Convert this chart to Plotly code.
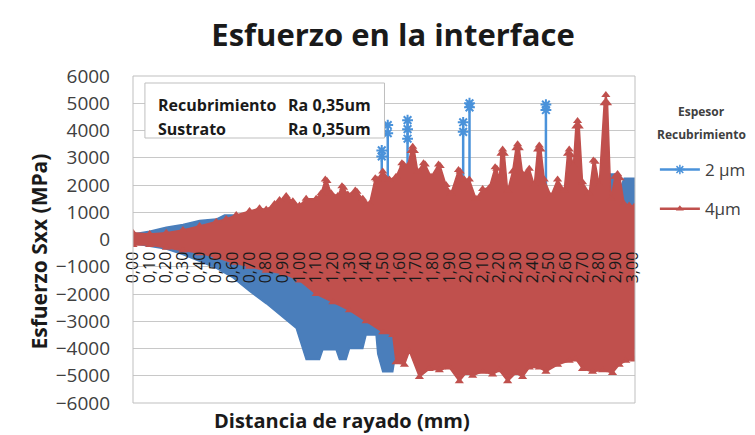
import plotly.graph_objects as go

# ---------------- data ----------------
tick_vals = [0.0, 0.1, 0.2, 0.3, 0.4, 0.5, 0.6, 0.7, 0.8, 0.9, 1.0, 1.1, 1.2, 1.3, 1.4, 1.5,
             1.6, 1.7, 1.8, 1.9, 2.0, 2.1, 2.2, 2.3, 2.4, 2.5, 2.6, 2.7, 2.8, 2.9, 3.0]
tick_text = ["0,00", "0,10", "0,20", "0,30", "0,40", "0,50", "0,60", "0,70", "0,80", "0,90",
             "1,00", "1,10", "1,20", "1,30", "1,40", "1,50", "1,60", "1,70", "1,80", "1,90",
             "2,00", "2,10", "2,20", "2,30", "2,40", "2,50", "2,60", "2,70", "2,80", "2,90", "3,00"]

# 2 um series: envelope of the oscillating signal (upper / lower), MPa
blue_up_x = [0.00, 0.10, 0.20, 0.30, 0.40, 0.50, 0.55, 0.62, 0.66, 0.70, 0.80, 1.00, 1.50, 2.00,
             2.50, 2.80, 2.85, 2.90, 2.92, 2.95, 3.01]
blue_up_y = [200, 300, 450, 550, 700, 750, 900, 900, 700, 800, 900, 1000, 1200, 1200,
             1200, 1400, 2400, 2400, 1800, 2250, 2250]
blue_lo_x = [0.00, 0.10, 0.20, 0.30, 0.40, 0.50, 0.60, 0.70, 0.80, 0.90, 0.98, 1.04, 1.12, 1.14,
             1.22, 1.24, 1.28, 1.30, 1.38, 1.40, 1.46, 1.47, 1.50, 1.56, 1.58, 2.00, 2.50, 3.01]
blue_lo_y = [-150, -250, -350, -550, -800, -1050, -1400, -1900, -2350, -2850, -3250, -4400, -4400, -4050,
             -4050, -4400, -4400, -4000, -4000, -3500, -3500, -4200, -4850, -4850, -4100, -4000, -4000, -4000]
# isolated 2 um spikes
spike_x = [1.494, 1.530, 1.649, 1.983, 2.021, 2.480]
spike_base = [1500, 1500, 1500, 1500, 800, -500]
spike_top = [3270, 4200, 4380, 4300, 5100, 4980]
spike_mark_x = [1.494, 1.494, 1.530, 1.530, 1.649, 1.649, 1.649, 1.983, 1.983, 2.021, 2.021, 2.480, 2.480]
spike_mark_y = [3270, 3050, 4200, 3900, 4380, 4050, 3700, 4300, 3950, 5000, 4850, 4950, 4750]

# 4 um series envelope
red_up_x = [0.00, 0.10, 0.20, 0.30, 0.40, 0.50, 0.56, 0.62, 0.70, 0.76, 0.80, 0.85, 0.88, 0.92,
            0.96, 1.00, 1.04, 1.10, 1.13, 1.155, 1.165, 1.19, 1.23, 1.255, 1.265, 1.29, 1.335, 1.345,
            1.38, 1.42, 1.455, 1.465, 1.50, 1.54, 1.58, 1.615, 1.625, 1.65, 1.67, 1.68, 1.69, 1.71,
            1.745, 1.755, 1.79, 1.835, 1.845, 1.88, 1.91, 1.955, 1.965, 1.99, 2.02, 2.06, 2.10,
            2.14, 2.175, 2.185, 2.20, 2.21, 2.22, 2.23, 2.25, 2.28, 2.30, 2.31, 2.32, 2.34, 2.38,
            2.41, 2.43, 2.44, 2.45, 2.47, 2.51, 2.55, 2.59, 2.61, 2.62, 2.63, 2.645, 2.66, 2.67,
            2.68, 2.70, 2.74, 2.765, 2.775, 2.80, 2.83, 2.84, 2.85, 2.87, 2.895, 2.91, 2.925,
            2.95, 2.98, 3.01]
red_up_y = [250, 200, 250, 350, 500, 650, 750, 900, 1050, 1150, 1100, 1300, 1450, 1600,
            1400, 1250, 1500, 1500, 1700, 2200, 2150, 1700, 1600, 1950, 1900, 1650, 1800, 1750,
            1500, 1300, 2250, 2200, 2500, 2200, 2300, 2800, 2750, 2700, 3250, 3400, 3250, 2500,
            2800, 2750, 2300, 2750, 2700, 2000, 1700, 2550, 2500, 2200, 2200, 1500, 1850,
            1900, 2650, 2600, 2200, 3150, 3300, 3150, 1800, 2500, 3350, 3500, 3350, 2400, 2600,
            2000, 3300, 3450, 3300, 2200, 1600, 2200, 1800, 3150, 3300, 3100, 2700, 4150, 4350,
            4150, 2100, 1700, 2900, 2850, 2000, 5000, 5300, 5000, 1500, 2300, 2400, 2250,
            1300, 1250, 1200]
red_lo_x = [0.00, 0.10, 0.20, 0.30, 0.40, 0.50, 0.60, 0.70, 0.80, 0.90, 1.00, 1.10, 1.20, 1.30,
            1.40, 1.50, 1.56, 1.58, 1.63, 1.66, 1.72, 1.78, 1.84, 1.90, 1.96, 2.00, 2.04, 2.10,
            2.16, 2.20, 2.25, 2.30, 2.34, 2.38, 2.44, 2.48, 2.55, 2.62, 2.66, 2.70, 2.76, 2.82,
            2.88, 2.92, 2.96, 3.01]
red_lo_y = [-200, -200, -300, -400, -500, -650, -850, -1000, -1150, -1250, -1500, -2000, -2300, -2600,
            -3000, -3400, -3500, -4500, -4600, -4100, -5050, -4750, -4800, -4700, -5200, -4900, -5000, -4850,
            -4950, -4800, -5200, -4900, -5050, -4700, -4700, -4850, -4600, -4450, -4400, -4750, -4850, -4800,
            -4900, -4600, -4450, -4400]

# ---------------- styling ----------------
BLUE = "#4A7EBB"
BLUE_LINE = "#4A92DA"
RED = "#C0504D"
FONT = "Open Sans"

fig = go.Figure()

# 2 um envelope
fig.add_trace(go.Scatter(
    x=blue_up_x + blue_lo_x[::-1], y=blue_up_y + blue_lo_y[::-1],
    fill="toself", fillcolor=BLUE, mode="lines", line=dict(color=BLUE, width=1.5),
    showlegend=False, hoverinfo="skip"))
# 2 um spikes
sx, sy = [], []
for x0, b, t in zip(spike_x, spike_base, spike_top):
    sx += [x0, x0, None]
    sy += [b, t, None]
fig.add_trace(go.Scatter(x=sx, y=sy, mode="lines", line=dict(color=BLUE_LINE, width=2.5),
                         showlegend=False, hoverinfo="skip"))
fig.add_trace(go.Scatter(x=spike_mark_x, y=spike_mark_y, mode="markers",
                         marker=dict(symbol="asterisk-open", size=9, color=BLUE_LINE,
                                     line=dict(width=2, color=BLUE_LINE)),
                         showlegend=False, hoverinfo="skip"))
# 4 um envelope
fig.add_trace(go.Scatter(
    x=red_up_x + red_lo_x[::-1], y=red_up_y + red_lo_y[::-1],
    fill="toself", fillcolor=RED, mode="lines+markers", line=dict(color=RED, width=1.5),
    marker=dict(symbol="triangle-up", size=8, color=RED),
    showlegend=False, hoverinfo="skip"))

# legend entries
fig.add_trace(go.Scatter(x=[None], y=[None], mode="lines+markers", name="2 µm", legendgroup="a",
                         line=dict(color=BLUE_LINE, width=2.5),
                         marker=dict(symbol="asterisk-open", size=8, color=BLUE_LINE,
                                     line=dict(width=1.5, color=BLUE_LINE))))
fig.add_trace(go.Scatter(x=[None], y=[None], mode="lines+markers", name="4µm", legendgroup="b",
                         line=dict(color=RED, width=2.5),
                         marker=dict(symbol="triangle-up", size=7, color=RED)))

W, H = 755, 435
L, R, T, B = 125, 125, 68, 40

fig.update_layout(
    width=W, height=H,
    margin=dict(l=L, r=R, t=T, b=B),
    paper_bgcolor="white", plot_bgcolor="white",
    font=dict(family=FONT, color="#404040"),
    title=dict(text="Esfuerzo en la interface", x=0.51, xanchor="center", y=1 - 27 / H,
               yanchor="middle", font=dict(family=FONT, size=31, color="#1a1a1a", weight="bold")),
    showlegend=True,
    legend=dict(x=(650 - L) / (W - L - R), xanchor="left", y=(H - B - 144) / (H - T - B), yanchor="top",
                font=dict(family=FONT, size=17, color="#404040"), tracegroupgap=14,
                bgcolor="rgba(0,0,0,0)", itemwidth=40),
)

fig.update_xaxes(range=[0, 3.015], tickvals=tick_vals, ticktext=tick_text, tickangle=-90,
                 anchor="free", position=0.5, showgrid=False, zeroline=False, showline=False,
                 ticks="", ticklabelstandoff=8,
                 tickfont=dict(family=FONT, size=16, color="#1a1a1a"))
fig.update_yaxes(range=[-6000, 6000], dtick=1000, tick0=0, showgrid=True, gridcolor="#c8c8c8",
                 gridwidth=1, zeroline=False, showline=False, ticks="", ticklabelstandoff=22,
                 tickfont=dict(family=FONT, size=19, color="#404040"))

pw, ph = W - L - R, H - T - B
def px(xp):
    return (xp - L) / pw
def py(yp):
    return (H - B - yp) / ph

# plot border
fig.add_shape(type="rect", xref="paper", yref="paper", x0=0, x1=1, y0=0, y1=1,
              line=dict(color="#bfbfbf", width=1), layer="above")
# info text box
fig.add_shape(type="rect", xref="paper", yref="paper", x0=px(137), x1=px(378), y0=py(130), y1=py(75),
              line=dict(color="#bfbfbf", width=1), fillcolor="white", layer="above")

ann = []
box_font = dict(family=FONT, size=16, color="#1a1a1a", weight="bold")
ann.append(dict(text="Recubrimiento", x=px(148), y=py(97), xanchor="left", yanchor="middle", font=box_font))
ann.append(dict(text="Ra 0,35um", x=px(366), y=py(97), xanchor="right", yanchor="middle", font=box_font))
ann.append(dict(text="Sustrato", x=px(148), y=py(121), xanchor="left", yanchor="middle", font=box_font))
ann.append(dict(text="Ra 0,35um", x=px(366), y=py(121), xanchor="right", yanchor="middle", font=box_font))
# legend title
lt_font = dict(family=FONT, size=12, color="#404040", weight="bold")
ann.append(dict(text="Espesor", x=px(697), y=py(103), xanchor="center", yanchor="middle", font=lt_font))
ann.append(dict(text="Recubrimiento", x=px(697), y=py(126), xanchor="center", yanchor="middle", font=lt_font))
# axis titles
ax_font = dict(family=FONT, size=21, color="#1a1a1a", weight="bold")
ann.append(dict(text="Esfuerzo Sxx (MPa)", x=px(30), y=py(244), textangle=-90,
                xanchor="center", yanchor="middle", font=ax_font))
ann.append(dict(text="Distancia de rayado (mm)", x=px(335), y=py(412),
                xanchor="center", yanchor="middle", font=dict(family=FONT, size=20, color="#1a1a1a", weight="bold")))
for a in ann:
    a.update(xref="paper", yref="paper", showarrow=False)
fig.update_layout(annotations=ann)

fig.write_html("out.html")
